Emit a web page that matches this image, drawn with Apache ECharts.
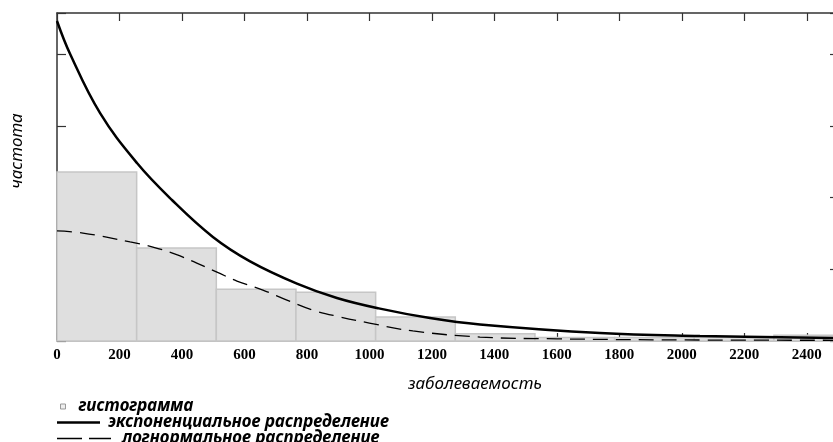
<!DOCTYPE html>
<html>
<head>
<meta charset="utf-8">
<script src="https://cdn.jsdelivr.net/npm/echarts@6/dist/echarts.min.js"></script>
<style>
  html, body { margin: 0; padding: 0; background: #fff; }
  #chart { width: 833px; height: 442px; }
</style>
</head>
<body>
<div id="chart"></div>
<script>
// histogram bins (start, end, frequency)
const binStart = [0, 255, 510, 765, 1020, 1275, 1530, 1785, 2040, 2295];
const binEnd = [255, 510, 765, 1020, 1275, 1530, 1785, 2040, 2295, 2550];
const binFreq = [47.1, 25.9, 14.4, 13.6, 6.7, 2.0, 1.0, 1.0, 1.1, 1.6];

// exponential fit
const expX = [0, 42, 138, 256, 368, 499, 618, 768, 896, 1030, 1194, 1354, 1738, 2058, 2500];
const expY = [89.2, 80, 63.5, 49.6, 39.3, 29.0, 22.2, 16.0, 12.0, 9.1, 6.4, 4.6, 2.2, 1.4, 0.8];

// lognormal fit
const logX = [0, 83, 234, 307, 394, 512, 576, 659, 736, 819, 906, 1000, 1139, 1354, 1600, 2000, 2500];
const logY = [30.7, 30.1, 27.6, 26.2, 23.7, 19.2, 16.7, 14.2, 11.4, 8.6, 6.7, 5.0, 2.8, 1.1, 0.6, 0.3, 0.2];

const histName = 'гистограмма';
const expName = 'экспоненциальное распределение';
const logName = 'логнормальное распределение';

const xMax = 2500;
const yMax = 91.43;

let myChart = echarts.init(document.getElementById('chart'));

const nameFont = {
  fontFamily: 'Noto Sans',
  fontStyle: 'italic',
  fontSize: 17,
  color: '#000'
};

const legendText = {
  fontFamily: 'Noto Sans',
  fontStyle: 'italic',
  fontWeight: 'bold',
  fontSize: 17,
  color: '#000'
};

let option = {
  animation: false,
  grid: { left: 57, top: 13, width: 781, height: 328, outerBoundsMode: 'none', containLabel: false },
  legend: [
    {
      left: 60, top: 398, padding: 0, itemWidth: 5, itemHeight: 5, selectedMode: false,
      data: [{ name: histName, icon: 'rect', itemStyle: { color: '#eeeeee', borderColor: '#999', borderWidth: 1 } }],
      textStyle: Object.assign({ padding: [0, 0, 0, 8] }, legendText)
    },
    {
      left: 57, top: 414, padding: 0, itemWidth: 43, itemHeight: 2.5, selectedMode: false,
      symbolKeepAspect: false,
      data: [{ name: expName, icon: 'rect' }],
      textStyle: Object.assign({ padding: [0, 0, 0, 3] }, legendText)
    },
    {
      left: 57, top: 430, padding: 0, itemWidth: 54, itemHeight: 1.4, selectedMode: false,
      symbolKeepAspect: false,
      data: [{ name: logName, icon: 'path://M0,0H25V1H0Z M32,0H54V1H32Z' }],
      textStyle: Object.assign({ padding: [0, 0, 0, 6] }, legendText)
    }
  ],
  xAxis: [
    {
      type: 'value', min: 0, max: xMax, interval: 200, position: 'bottom',
      name: 'заболеваемость', nameLocation: 'middle', nameGap: 35,
      nameTextStyle: Object.assign({ padding: [0, 0, 0, 55] }, nameFont),
      axisLine: { onZero: false, lineStyle: { color: '#bbb', width: 2 } },
      axisTick: { inside: true, length: 8, lineStyle: { color: '#333', width: 1.2 } },
      axisLabel: {
        margin: 7, color: '#000', fontFamily: 'Liberation Serif', fontWeight: 'bold', fontSize: 15,
        showMaxLabel: false,
        formatter: v => String(v)
      },
      splitLine: { show: false }
    },
    {
      type: 'value', min: 0, max: xMax, interval: 200, position: 'top',
      axisLine: { onZero: false, lineStyle: { color: '#333', width: 1.5 } },
      axisTick: { inside: true, length: 8, lineStyle: { color: '#333', width: 1.2 } },
      axisLabel: { show: false },
      splitLine: { show: false }
    }
  ],
  yAxis: [
    {
      type: 'value', min: 0, max: yMax, interval: 20, position: 'left',
      name: 'частота', nameLocation: 'middle', nameGap: 31,
      nameTextStyle: Object.assign({ padding: [0, 0, 0, 52] }, nameFont),
      axisLine: { show: true, onZero: false, lineStyle: { color: '#333', width: 1.5 } },
      axisTick: { show: true, inside: true, length: 9, lineStyle: { color: '#333', width: 1.2 } },
      axisLabel: { show: false },
      splitLine: { show: false }
    },
    {
      type: 'value', min: 0, max: yMax, interval: 20, position: 'right',
      axisLine: { show: true, onZero: false, lineStyle: { color: '#333', width: 1.5 } },
      axisTick: { show: true, inside: true, length: 8, lineStyle: { color: '#333', width: 1.2 } },
      axisLabel: { show: false },
      splitLine: { show: false }
    }
  ],
  series: [
    {
      name: histName,
      type: 'custom',
      xAxisIndex: 0, yAxisIndex: 0,
      itemStyle: { color: '#dfdfdf', borderColor: '#c6c6c6', borderWidth: 1.5 },
      renderItem: function (params, api) {
        let p0 = api.coord([api.value(0), 0]);
        let p1 = api.coord([api.value(1), api.value(2)]);
        let shape = echarts.graphic.clipRectByRect(
          { x: p0[0], y: p1[1], width: p1[0] - p0[0], height: p0[1] - p1[1] },
          { x: params.coordSys.x, y: params.coordSys.y, width: params.coordSys.width, height: params.coordSys.height }
        );
        return shape && {
          type: 'rect',
          shape: shape,
          style: { fill: '#dfdfdf', stroke: '#c6c6c6', lineWidth: 1.5 }
        };
      },
      encode: { x: [0, 1], y: 2 },
      data: binStart.map((s, i) => [s, binEnd[i], binFreq[i]]),
      z: 2
    },
    {
      name: expName,
      type: 'line',
      smooth: 0.4,
      symbol: 'none',
      lineStyle: { color: '#000', width: 2.5 },
      itemStyle: { color: '#000' },
      data: expX.map((x, i) => [x, expY[i]]),
      z: 4
    },
    {
      name: logName,
      type: 'line',
      smooth: 0.4,
      symbol: 'none',
      lineStyle: { color: '#000', width: 1.3, type: [15, 8] },
      itemStyle: { color: '#000' },
      data: logX.map((x, i) => [x, logY[i]]),
      z: 3
    }
  ]
};

myChart.setOption(option);
</script>
</body>
</html>
